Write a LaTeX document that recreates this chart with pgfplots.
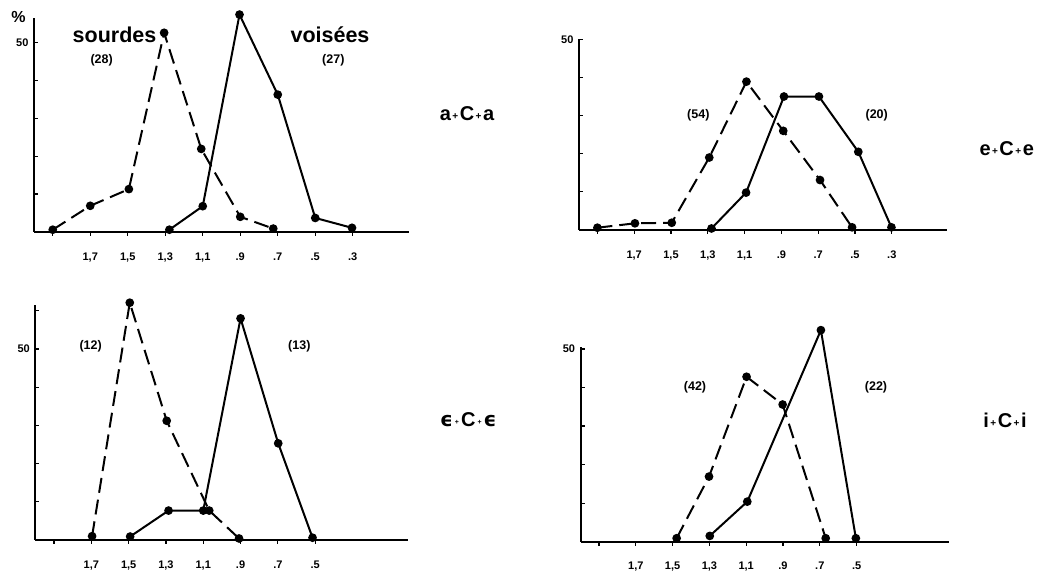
\documentclass[border=0pt]{standalone}
\usepackage{pgfplots}
\pgfplotsset{compat=1.18}
\usepackage{fontspec}
\setmainfont{Liberation Sans}
\newfontfamily\dvs{DejaVu Sans}
\newcommand{\pl}{\hspace{1.5pt}{\fontsize{10}{10}\selectfont\raisebox{1pt}{+}}\hspace{1.5pt}}
\newcommand{\dt}{\hspace{2pt}{\fontsize{7}{7}\selectfont\raisebox{2pt}{+}}\hspace{2pt}}
\pgfplotsset{
  panel/.style={
    scale only axis, clip=false, anchor=south west,
    xmin=0, xmax=10, ymin=0,
    axis lines=left, axis line style={-, line width=1.9pt},
    ytick={0,10,...,50}, yticklabels={,,,,,50},
    major tick style={line width=1.2pt, black},
    tick label style={font=\bfseries\fontsize{11}{12}\selectfont},
    xticklabel style={yshift=-13pt},
    yticklabel style={xshift=-2pt},
    /pgf/number format/assume math mode=true,
    xtick align=outside, ytick align=inside, major tick length=4pt,
  },
  sol/.style={black, line width=2pt, mark=*, mark size=3.3pt, mark options={solid}},
  das/.style={black, line width=2pt, dash pattern=on 15pt off 7pt, mark=*, mark size=3.3pt, mark options={solid}},
}
\begin{document}
\begin{tikzpicture}
\path (0pt,0pt) rectangle (1050pt,572pt);
% ---- a+C+a
\begin{axis}[panel, at={(34pt,340pt)}, width=375pt, height=214pt, ymax=56.4,
  xtick={0.5,1.5,...,8.5}, xticklabels={{},{1,7},{1,5},{1,3},{1,1},{.9},{.7},{.5},{.3}}]
\addplot[das] coordinates {(0.5,0.6) (1.5,6.9) (2.53,11.3) (3.47,52.5) (4.46,21.9) (5.5,4.0) (6.38,0.9)};
\addplot[sol] coordinates {(3.61,0.6) (4.5,6.8) (5.48,57.3) (6.5,36.2) (7.5,3.7) (8.48,1.1)};
\end{axis}
% ---- e+C+e
\begin{axis}[panel, at={(579pt,342pt)}, width=368pt, height=190.7pt, ymax=50,
  xtick={0.5,1.5,...,8.5}, xticklabels={{},{1,7},{1,5},{1,3},{1,1},{.9},{.7},{.5},{.3}}]
\addplot[das] coordinates {(0.5,0.6) (1.52,1.75) (2.52,1.9) (3.54,19.0) (4.55,38.9) (5.55,26.0) (6.55,13.1) (7.42,0.7)};
\addplot[sol] coordinates {(3.6,0.4) (4.54,9.8) (5.57,35.0) (6.52,35.0) (7.59,20.5) (8.49,0.7)};
\end{axis}
% ---- eps C eps
\begin{axis}[panel, at={(35.4pt,32pt)}, width=373pt, height=235pt, ymax=61.5,
  ytick={0,10,...,60}, yticklabels={,,,,,50,},
  xtick={0.5,1.5,...,7.5}, xticklabels={{},{1,7},{1,5},{1,3},{1,1},{.9},{.7},{.5}}]
\addplot[das] coordinates {(1.52,1.0) (2.53,62.1) (3.52,31.2) (4.66,7.7) (5.46,0.4)};
\addplot[sol] coordinates {(2.54,0.9) (3.57,7.7) (4.5,7.7) (5.5,58.0) (6.51,25.3) (7.43,0.6)};
\end{axis}
% ---- i+C+i
\begin{axis}[panel, at={(580.6pt,30.3pt)}, width=368pt, height=194.6pt, ymax=50.5,
  xtick={0.5,1.5,...,7.5}, xticklabels={{},{1,7},{1,5},{1,3},{1,1},{.9},{.7},{.5}}]
\addplot[das] coordinates {(2.61,0.9) (3.49,16.9) (4.51,42.8) (5.49,35.6) (6.66,0.9)};
\addplot[sol] coordinates {(3.51,1.5) (4.53,10.4) (6.53,54.9) (7.48,0.9)};
\end{axis}
% ---- texts
\node[font=\bfseries\fontsize{16}{18}\selectfont] at (18.5pt,554.5pt) {\%};
\node[anchor=base, font=\bfseries\fontsize{21.5}{24}\selectfont] at (114.5pt,529.3pt) {sourdes};
\node[anchor=base, font=\bfseries\fontsize{21.5}{24}\selectfont] at (330pt,529.3pt) {voisées};
\node[font=\bfseries\fontsize{12.5}{14}\selectfont] at (101.7pt,512pt) {(28)};
\node[font=\bfseries\fontsize{12.5}{14}\selectfont] at (333.3pt,512pt) {(27)};
\node[font=\bfseries\fontsize{20}{24}\selectfont] at (467pt,458.7pt) {a\pl C\pl a};
\node[font=\bfseries\fontsize{12.5}{14}\selectfont] at (698.3pt,457pt) {(54)};
\node[font=\bfseries\fontsize{12.5}{14}\selectfont] at (876.7pt,457pt) {(20)};
\node[font=\bfseries\fontsize{20}{24}\selectfont] at (1006.7pt,423.7pt) {e\pl C\pl e};
\node[font=\bfseries\fontsize{12.5}{14}\selectfont] at (90.7pt,225.3pt) {(12)};
\node[font=\bfseries\fontsize{12.5}{14}\selectfont] at (299.3pt,225.3pt) {(13)};
\node[font=\bfseries\fontsize{20}{24}\selectfont] at (468.3pt,152pt) {{\dvs\bfseries ϵ}\dt C\dt{\dvs\bfseries ϵ}};
\node[font=\bfseries\fontsize{12.5}{14}\selectfont] at (695pt,184.7pt) {(42)};
\node[font=\bfseries\fontsize{12.5}{14}\selectfont] at (876pt,184.7pt) {(22)};
\node[font=\bfseries\fontsize{20}{24}\selectfont] at (1005pt,152pt) {i\pl C\pl i};
\end{tikzpicture}
\end{document}
